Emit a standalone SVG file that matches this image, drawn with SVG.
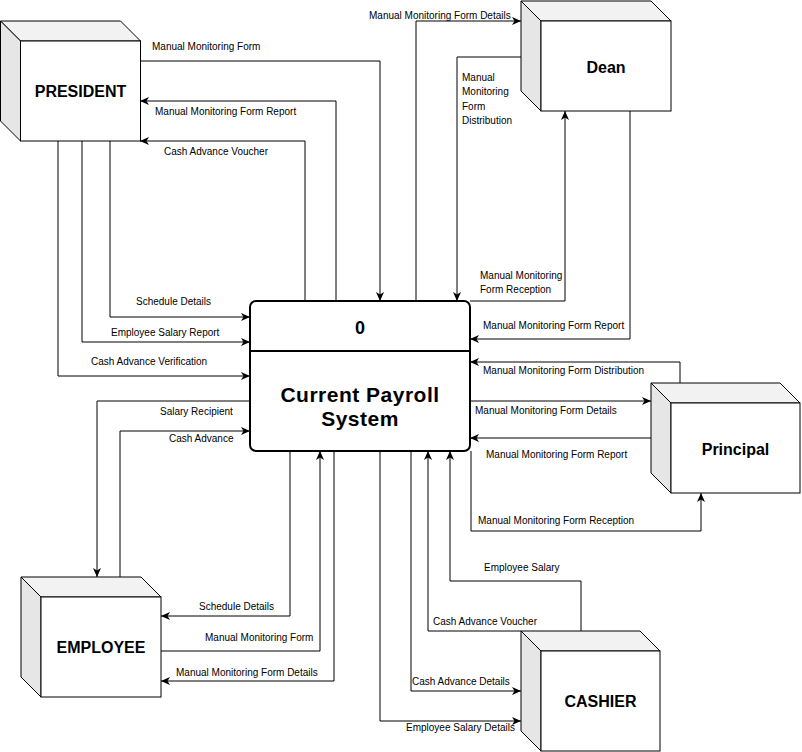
<svg xmlns="http://www.w3.org/2000/svg" width="802" height="752" viewBox="0 0 802 752">
<style>
.top{fill:#f2f2f2;stroke:#000;stroke-width:1}
.side{fill:#e6e6e6;stroke:#000;stroke-width:1}
.front{fill:#fff;stroke:#000;stroke-width:1}
.nl{font-family:"Liberation Sans",Arial,sans-serif;font-weight:bold;font-size:16px;text-anchor:middle;fill:#000}
.el{font-family:"Liberation Sans",Arial,sans-serif;font-size:10px;fill:#000}
.edge{fill:none;stroke:#000;stroke-width:1;marker-end:url(#arr)}
.plain{fill:none;stroke:#000;stroke-width:1}
</style>
<defs>
<marker id="arr" markerUnits="userSpaceOnUse" markerWidth="10" markerHeight="8" refX="9" refY="4" orient="auto">
<path d="M0,0 L9,4 L0,8 L2.5,4 z" fill="#000"/>
</marker>
</defs>
<rect width="802" height="752" fill="#fff"/>
<g id="connectors">
<path class="edge" d="M140,61 H380 V301"/>
<path class="edge" d="M336,301 V101 H140"/>
<path class="edge" d="M305,301 V141 H140"/>
<path class="edge" d="M110,141 V317 H250"/>
<path class="edge" d="M82,141 V342 H250"/>
<path class="edge" d="M58,141 V376 H250"/>
<path class="edge" d="M250,401 H97 V577"/>
<path class="edge" d="M120,577 V431 H250"/>
<path class="edge" d="M290,451 V616 H161"/>
<path class="edge" d="M161,651 H320 V451"/>
<path class="edge" d="M334,451 V681 H161"/>
<path class="edge" d="M581,631 V581 H450 V451"/>
<path class="edge" d="M521,631 H428 V451"/>
<path class="edge" d="M411,451 V691 H521"/>
<path class="edge" d="M380,451 V721 H521"/>
<path class="edge" d="M416,301 V21 H521"/>
<path class="edge" d="M521,57 H457 V301"/>
<path class="edge" d="M470,301 H565 V111"/>
<path class="edge" d="M630,111 V339 H470"/>
<path class="edge" d="M680,383 V362 H470"/>
<path class="edge" d="M470,401 H651"/>
<path class="edge" d="M651,438 H470"/>
<path class="edge" d="M471,451 V531 H701 V493"/>
<text class="el" x="152" y="50">Manual Monitoring Form</text>
<text class="el" x="155" y="115">Manual Monitoring Form Report</text>
<text class="el" x="164" y="155">Cash Advance Voucher</text>
<text class="el" x="136" y="305">Schedule Details</text>
<text class="el" x="111" y="336">Employee Salary Report</text>
<text class="el" x="91" y="365">Cash Advance Verification</text>
<text class="el" x="160" y="415">Salary Recipient</text>
<text class="el" x="169" y="442">Cash Advance</text>
<text class="el" x="199" y="610">Schedule Details</text>
<text class="el" x="205" y="641">Manual Monitoring Form</text>
<text class="el" x="176" y="676">Manual Monitoring Form Details</text>
<text class="el" x="484" y="571">Employee Salary</text>
<text class="el" x="433" y="625">Cash Advance Voucher</text>
<text class="el" x="412" y="685">Cash Advance Details</text>
<text class="el" x="406" y="731">Employee Salary Details</text>
<text class="el" x="369" y="19">Manual Monitoring Form Details</text>
<text class="el" x="462" y="81">Manual</text>
<text class="el" x="462" y="95">Monitoring</text>
<text class="el" x="462" y="110">Form</text>
<text class="el" x="462" y="124">Distribution</text>
<text class="el" x="480" y="279">Manual Monitoring</text>
<text class="el" x="480" y="293">Form Reception</text>
<text class="el" x="483" y="329">Manual Monitoring Form Report</text>
<text class="el" x="483" y="374">Manual Monitoring Form Distribution</text>
<text class="el" x="475" y="414">Manual Monitoring Form Details</text>
<text class="el" x="486" y="458">Manual Monitoring Form Report</text>
<text class="el" x="478" y="524">Manual Monitoring Form Reception</text>
</g>
<g id="president">
<polygon class="top" points="0.5,21 120.5,21 140.5,41 20.5,41"/>
<polygon class="side" points="0.5,21 20.5,41 20.5,141 0.5,121"/>
<rect class="front" x="20.5" y="41" width="120" height="100"/>
<text class="nl" x="80.5" y="97">PRESIDENT</text>
</g>
<g id="dean">
<polygon class="top" points="521,1 651,1 671,21 541,21"/>
<polygon class="side" points="521,1 541,21 541,111 521,91"/>
<rect class="front" x="541" y="21" width="130" height="90"/>
<text class="nl" x="606" y="73">Dean</text>
</g>
<g id="principal">
<polygon class="top" points="651,383 780,383 800,403 671,403"/>
<polygon class="side" points="651,383 671,403 671,493 651,473"/>
<rect class="front" x="671" y="403" width="129" height="90"/>
<text class="nl" x="735.5" y="455">Principal</text>
</g>
<g id="employee">
<polygon class="top" points="21,577 141,577 161,597 41,597"/>
<polygon class="side" points="21,577 41,597 41,697 21,677"/>
<rect class="front" x="41" y="597" width="120" height="100"/>
<text class="nl" x="101" y="653">EMPLOYEE</text>
</g>
<g id="cashier">
<polygon class="top" points="521,631 640,631 660,651 541,651"/>
<polygon class="side" points="521,631 541,651 541,751 521,731"/>
<rect class="front" x="541" y="651" width="119" height="100"/>
<text class="nl" x="600.5" y="707">CASHIER</text>
</g>
<g id="process">
<rect x="250" y="301" width="220" height="150" rx="6" ry="6" fill="#fff" stroke="#000" stroke-width="2"/>
<line x1="250" y1="351" x2="470" y2="351" stroke="#000" stroke-width="2"/>
<text class="nl" x="360" y="334" style="font-size:18px">0</text>
<text class="nl" x="360" y="402" style="font-size:21px;letter-spacing:0.5px">Current Payroll</text>
<text class="nl" x="360" y="426" style="font-size:21px;letter-spacing:0.5px">System</text>
</g>
</svg>
